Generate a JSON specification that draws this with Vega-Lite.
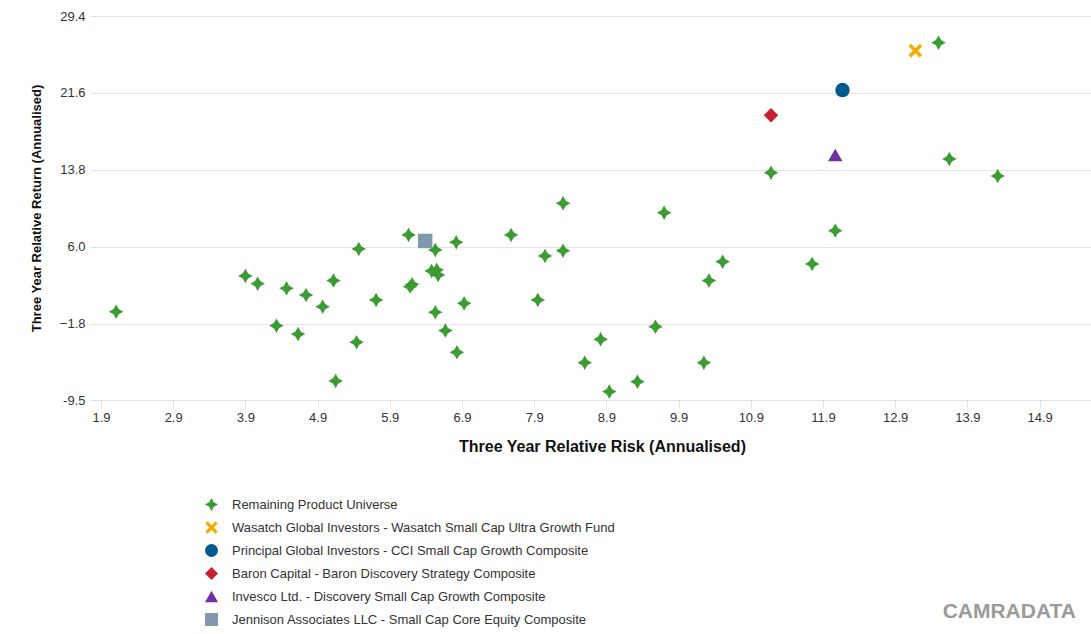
{
  "$schema": "https://vega.github.io/schema/vega-lite/v6.json",
  "width": 1001,
  "height": 384,
  "autosize": {"type": "none"},
  "padding": {"left": 90, "top": 16, "right": 0, "bottom": 234},
  "background": "white",
  "config": {
    "font": "Liberation Sans",
    "view": {"stroke": null}
  },
  "title": {
    "text": "CAMRADATA",
    "orient": "bottom",
    "anchor": "end",
    "frame": "group",
    "fontSize": 21,
    "fontWeight": "bold",
    "color": "#9a9a9a",
    "dx": -15,
    "offset": -26
  },
  "data": {
    "values": [
      {"series": "Remaining Product Universe", "risk": 2.11, "ret": -0.59},
      {"series": "Remaining Product Universe", "risk": 3.90, "ret": 3.03},
      {"series": "Remaining Product Universe", "risk": 4.07, "ret": 2.25},
      {"series": "Remaining Product Universe", "risk": 4.47, "ret": 1.78},
      {"series": "Remaining Product Universe", "risk": 4.33, "ret": -2.01},
      {"series": "Remaining Product Universe", "risk": 4.63, "ret": -2.86},
      {"series": "Remaining Product Universe", "risk": 4.74, "ret": 1.10},
      {"series": "Remaining Product Universe", "risk": 4.97, "ret": -0.08},
      {"series": "Remaining Product Universe", "risk": 5.12, "ret": 2.56},
      {"series": "Remaining Product Universe", "risk": 5.47, "ret": 5.77},
      {"series": "Remaining Product Universe", "risk": 5.44, "ret": -3.69},
      {"series": "Remaining Product Universe", "risk": 5.15, "ret": -7.62},
      {"series": "Remaining Product Universe", "risk": 5.71, "ret": 0.60},
      {"series": "Remaining Product Universe", "risk": 6.16, "ret": 7.19},
      {"series": "Remaining Product Universe", "risk": 6.18, "ret": 1.95},
      {"series": "Remaining Product Universe", "risk": 6.21, "ret": 2.19},
      {"series": "Remaining Product Universe", "risk": 6.53, "ret": 5.67},
      {"series": "Remaining Product Universe", "risk": 6.48, "ret": 3.54},
      {"series": "Remaining Product Universe", "risk": 6.55, "ret": 3.64},
      {"series": "Remaining Product Universe", "risk": 6.57, "ret": 3.13},
      {"series": "Remaining Product Universe", "risk": 6.82, "ret": 6.45},
      {"series": "Remaining Product Universe", "risk": 6.53, "ret": -0.65},
      {"series": "Remaining Product Universe", "risk": 6.93, "ret": 0.26},
      {"series": "Remaining Product Universe", "risk": 6.67, "ret": -2.51},
      {"series": "Remaining Product Universe", "risk": 6.83, "ret": -4.71},
      {"series": "Remaining Product Universe", "risk": 7.58, "ret": 7.19},
      {"series": "Remaining Product Universe", "risk": 8.05, "ret": 5.06},
      {"series": "Remaining Product Universe", "risk": 8.30, "ret": 10.40},
      {"series": "Remaining Product Universe", "risk": 8.30, "ret": 5.60},
      {"series": "Remaining Product Universe", "risk": 7.95, "ret": 0.60},
      {"series": "Remaining Product Universe", "risk": 9.70, "ret": 9.45},
      {"series": "Remaining Product Universe", "risk": 8.82, "ret": -3.39},
      {"series": "Remaining Product Universe", "risk": 8.60, "ret": -5.76},
      {"series": "Remaining Product Universe", "risk": 8.94, "ret": -8.70},
      {"series": "Remaining Product Universe", "risk": 9.33, "ret": -7.69},
      {"series": "Remaining Product Universe", "risk": 9.58, "ret": -2.11},
      {"series": "Remaining Product Universe", "risk": 10.51, "ret": 4.48},
      {"series": "Remaining Product Universe", "risk": 10.32, "ret": 2.56},
      {"series": "Remaining Product Universe", "risk": 10.25, "ret": -5.76},
      {"series": "Remaining Product Universe", "risk": 13.50, "ret": 26.69},
      {"series": "Remaining Product Universe", "risk": 13.65, "ret": 14.90},
      {"series": "Remaining Product Universe", "risk": 11.18, "ret": 13.51},
      {"series": "Remaining Product Universe", "risk": 14.32, "ret": 13.17},
      {"series": "Remaining Product Universe", "risk": 12.07, "ret": 7.63},
      {"series": "Remaining Product Universe", "risk": 11.75, "ret": 4.25},
      {"series": "Wasatch Global Investors - Wasatch Small Cap Ultra Growth Fund", "risk": 13.18, "ret": 25.88},
      {"series": "Principal Global Investors - CCI Small Cap Growth Composite", "risk": 12.17, "ret": 21.89},
      {"series": "Baron Capital - Baron Discovery Strategy Composite", "risk": 11.18, "ret": 19.33},
      {"series": "Invesco Ltd. - Discovery Small Cap Growth Composite", "risk": 12.07, "ret": 15.30},
      {"series": "Jennison Associates LLC - Small Cap Core Equity Composite", "risk": 6.39, "ret": 6.58}
    ]
  },
  "mark": {"type": "point", "filled": true, "opacity": 1, "size": 210},
  "encoding": {
    "x": {
      "field": "risk",
      "type": "quantitative",
      "scale": {"domain": [1.748, 15.612], "nice": false, "zero": false},
      "axis": {
        "title": "Three Year Relative Risk (Annualised)",
        "titleFontSize": 16,
        "titleFontWeight": "bold",
        "titleColor": "#111111",
        "titleX": 512,
        "titlePadding": 14,
        "values": [1.9, 2.9, 3.9, 4.9, 5.9, 6.9, 7.9, 8.9, 9.9, 10.9, 11.9, 12.9, 13.9, 14.9],
        "format": ".1f",
        "labelFontSize": 13,
        "labelColor": "#333333",
        "labelPadding": 3,
        "domain": false,
        "grid": false,
        "ticks": true,
        "tickColor": "#e3e3e3",
        "tickSize": 8
      }
    },
    "y": {
      "field": "ret",
      "type": "quantitative",
      "scale": {"domain": [-9.55, 29.4], "nice": false, "zero": false},
      "axis": {
        "title": "Three Year Relative Return (Annualised)",
        "titleFontSize": 13,
        "titleFontWeight": "bold",
        "titleColor": "#111111",
        "titlePadding": 16,
        "values": [-9.55, -1.8, 6.0, 13.8, 21.6, 29.4],
        "labelExpr": "datum.value < -9 ? '-9.5' : format(datum.value, '.1f')",
        "labelFontSize": 13,
        "labelColor": "#333333",
        "labelPadding": 5,
        "domain": false,
        "ticks": false,
        "grid": true,
        "gridColor": "#e3e3e3",
        "gridWidth": 1
      }
    },
    "color": {
      "field": "series",
      "type": "nominal",
      "scale": {
        "domain": [
          "Remaining Product Universe",
          "Wasatch Global Investors - Wasatch Small Cap Ultra Growth Fund",
          "Principal Global Investors - CCI Small Cap Growth Composite",
          "Baron Capital - Baron Discovery Strategy Composite",
          "Invesco Ltd. - Discovery Small Cap Growth Composite",
          "Jennison Associates LLC - Small Cap Core Equity Composite"
        ],
        "range": ["#3c9c34", "#f2ab00", "#005a8f", "#c8202f", "#7030a0", "#7f9aae"]
      },
      "legend": {
        "title": null,
        "orient": "none",
        "legendX": 115,
        "legendY": 482,
        "padding": 0,
        "rowPadding": 9,
        "labelFontSize": 13,
        "labelColor": "#333333",
        "labelOffset": 14,
        "labelLimit": 0,
        "symbolSize": 169,
        "symbolStrokeWidth": 0,
        "symbolOpacity": 1
      }
    },
    "shape": {
      "field": "series",
      "type": "nominal",
      "scale": {
        "domain": [
          "Remaining Product Universe",
          "Wasatch Global Investors - Wasatch Small Cap Ultra Growth Fund",
          "Principal Global Investors - CCI Small Cap Growth Composite",
          "Baron Capital - Baron Discovery Strategy Composite",
          "Invesco Ltd. - Discovery Small Cap Growth Composite",
          "Jennison Associates LLC - Small Cap Core Equity Composite"
        ],
        "range": [
          "M0,-1 L0.36,-0.36 L1,0 L0.36,0.36 L0,1 L-0.36,0.36 L-1,0 L-0.36,-0.36 Z",
          "M-0.95,-0.6 L-0.6,-0.95 L0,-0.35 L0.6,-0.95 L0.95,-0.6 L0.35,0 L0.95,0.6 L0.6,0.95 L0,0.35 L-0.6,0.95 L-0.95,0.6 L-0.35,0 Z",
          "circle",
          "diamond",
          "triangle-up",
          "square"
        ]
      },
      "legend": null
    }
  }
}
